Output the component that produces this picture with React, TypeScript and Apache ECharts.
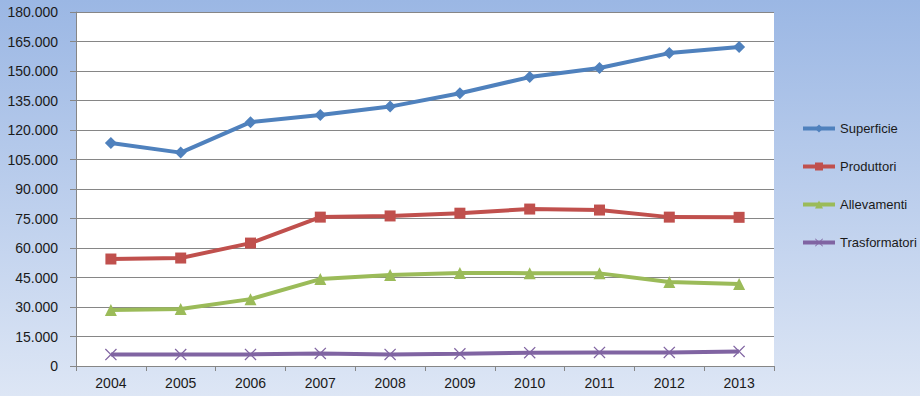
import React, { useEffect, useRef } from "react";
import * as echarts from "echarts";

const years = ["2004", "2005", "2006", "2007", "2008", "2009", "2010", "2011", "2012", "2013"];
const superficie = [113400, 108500, 124000, 127600, 131900, 138700, 146900, 151500, 159100, 162200];
const produttori = [54400, 54900, 62500, 75700, 76300, 77700, 79800, 79300, 75700, 75600];
const allevamenti = [28500, 29000, 34000, 44200, 46300, 47300, 47200, 47100, 42700, 41700];
const trasformatori = [5800, 5800, 5900, 6400, 5900, 6200, 6800, 6900, 6900, 7400];

const fmt = (v: number) => {
  if (v === 0) return "0";
  const s = String(Math.round(v));
  return s.replace(/\B(?=(\d{3})+(?!\d))/g, ".");
};

const crossPath =
  "path://M0,1.5 L1.5,0 L10,8.5 L18.5,0 L20,1.5 L11.5,10 L20,18.5 L18.5,20 L10,11.5 L1.5,20 L0,18.5 L8.5,10 Z";

export default function App() {
  const ref = useRef<HTMLDivElement>(null);
  useEffect(() => {
    if (!ref.current) return;
    const chart = echarts.init(ref.current, undefined, { renderer: "svg" });
    const font = "Liberation Sans";
    const mk = (name: string, data: number[], color: string, symbol: string, size: number) => ({
      name,
      type: "line",
      data,
      symbol,
      symbolSize: size,
      lineStyle: { width: 4, color },
      itemStyle: { color },
      z: 3,
    });
    chart.setOption({
      animation: false,
      backgroundColor: new echarts.graphic.LinearGradient(0, 0, 0, 1, [
        { offset: 0, color: "#9BB7E4" },
        { offset: 1, color: "#DDE6F5" },
      ]),
      textStyle: { fontFamily: font },
      grid: {
        left: 76,
        top: 12,
        right: 146,
        bottom: 30,
        show: true,
        backgroundColor: "#ffffff",
        borderWidth: 0,
      },
      legend: {
        orient: "vertical",
        left: 796,
        top: 117,
        itemWidth: 32,
        itemHeight: 10,
        itemGap: 25,
        lineStyle: { width: 4 },
        textStyle: { fontFamily: font, fontSize: 13, color: "#1a1a1a" },
        data: ["Superficie", "Produttori", "Allevamenti", "Trasformatori"],
      },
      xAxis: {
        type: "category",
        data: years,
        boundaryGap: true,
        axisLine: { show: true, lineStyle: { color: "#868686", width: 1 } },
        axisTick: { show: true, length: 5, lineStyle: { color: "#868686" } },
        axisLabel: { color: "#1a1a1a", fontSize: 14, margin: 10, fontFamily: font },
        splitLine: { show: false },
      },
      yAxis: {
        type: "value",
        min: 0,
        max: 180000,
        interval: 15000,
        axisLine: { show: true, lineStyle: { color: "#868686", width: 1 } },
        axisTick: { show: true, length: 6, lineStyle: { color: "#868686" } },
        axisLabel: { color: "#1a1a1a", fontSize: 14, margin: 18, fontFamily: font, formatter: fmt },
        splitLine: { show: true, lineStyle: { color: "#868686", width: 1 } },
      },
      series: [
        mk("Superficie", superficie, "#4F81BD", "diamond", 12),
        mk("Produttori", produttori, "#C0504D", "rect", 11),
        mk("Allevamenti", allevamenti, "#9BBB59", "triangle", 12),
        mk("Trasformatori", trasformatori, "#8064A2", crossPath, 12),
      ],
    });
    return () => chart.dispose();
  }, []);
  return <div ref={ref} style={{ width: 920, height: 396, position: "absolute", left: 0, top: 0 }} />;
}
